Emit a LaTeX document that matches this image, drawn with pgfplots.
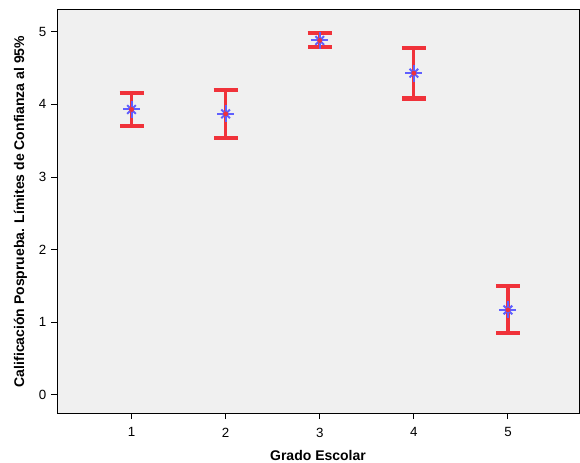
\documentclass[border=0pt]{standalone}
\usepackage{pgfplots}
\pgfplotsset{compat=1.18}
\usepackage{pgfplotstable}
\usepackage{fontspec}
\setmainfont{Liberation Sans}
\definecolor{barred}{RGB}{240,50,58}
\definecolor{starblue}{RGB}{95,95,255}
\definecolor{bgray}{RGB}{240,240,240}
\pgfplotstableread{
x y ep em
1 3.93 0.23 0.23
2 3.87 0.33 0.33
3 4.88 0.10 0.09
4 4.43 0.35 0.35
5 1.17 0.33 0.32
}\cidata
\begin{document}
\begin{tikzpicture}
\useasboundingbox (0,0) rectangle (435pt,346.5pt);
\begin{axis}[
  at={(42.75pt,36.75pt)}, anchor=south west,
  scale only axis, width=391.5pt, height=302.25pt,
  xmin=0.208, xmax=5.755, ymin=-0.25, ymax=5.30,
  axis background/.style={fill=bgray},
  axis line style={black, line width=0.75pt},
  xtick={1,2,3,4,5}, ytick={0,1,2,3,4,5},
  tick align=outside, tick pos=left,
  major tick length=4.5pt,
  tick style={black, line width=0.75pt},
  /pgf/number format/assume math mode=true,
  tick label style={font=\fontsize{10}{12}\selectfont},
  xticklabel style={yshift=-3pt},
  xlabel={\textbf{Grado Escolar}},
  ylabel={\textbf{Calificación Posprueba. Límites de Confianza al 95\%}},
  label style={font=\fontsize{10.5}{12}\selectfont},
  xlabel style={at={(ticklabel cs:0.5)}, yshift=-3pt},
  ylabel style={yshift=2pt},
  clip=false,
]
\addplot[only marks, mark=+, mark size=6.4pt, starblue, line width=1.5pt,
  error bars/.cd, y dir=both, y explicit,
  error bar style={barred, line width=2.4pt},
  error mark options={barred, rotate=90, mark size=9pt, line width=3.2pt}]
  table[x=x, y=y, y error plus=ep, y error minus=em]{\cidata};
\addplot[only marks, mark=x, mark size=4.6pt, starblue, line width=1.5pt]
  table[x=x, y=y]{\cidata};
\addplot[only marks, mark=*, mark size=1.6pt, barred, draw=none]
  table[x=x, y=y]{\cidata};
\end{axis}
\end{tikzpicture}
\end{document}
